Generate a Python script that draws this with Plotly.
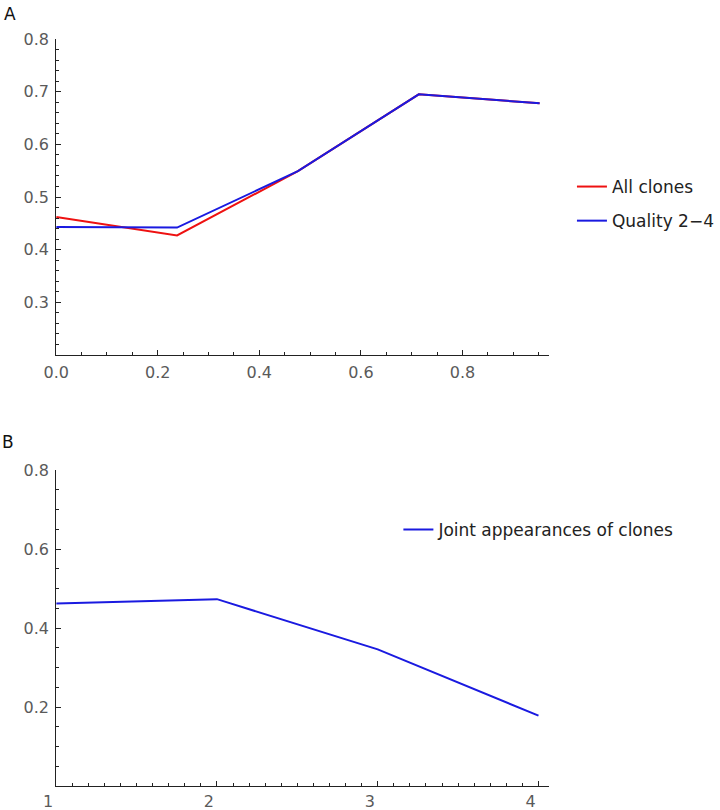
import plotly.graph_objects as go

# Panel A data
a_x = [0.0, 0.238, 0.476, 0.714, 0.952]
a_all = [0.462, 0.427, 0.549, 0.695, 0.678]
a_q24 = [0.443, 0.442, 0.549, 0.695, 0.678]
a_xticks = [0.0, 0.2, 0.4, 0.6, 0.8]
a_yticks = [0.3, 0.4, 0.5, 0.6, 0.7, 0.8]

# Panel B data
b_x = [1, 2, 3, 4]
b_joint = [0.462, 0.473, 0.346, 0.178]
b_xticks = [1, 2, 3, 4]
b_yticks = [0.2, 0.4, 0.6, 0.8]

W, H = 720, 810
def px_x(p):
    return p / W
def px_y(p):
    return 1 - p / H

FONT = "DejaVu Sans, Verdana, sans-serif"

fig = go.Figure()
fig.add_trace(go.Scatter(x=a_x, y=a_all, mode="lines", name="All clones",
                         line=dict(color="#ee1111", width=2), xaxis="x", yaxis="y",
                         legend="legend", legendgroup="a1"))
fig.add_trace(go.Scatter(x=a_x, y=a_q24, mode="lines", name="Quality 2\u22124",
                         line=dict(color="#1a1ae0", width=2), xaxis="x", yaxis="y",
                         legend="legend", legendgroup="a2"))
fig.add_trace(go.Scatter(x=b_x, y=b_joint, mode="lines", name="Joint appearances of clones",
                         line=dict(color="#1a1ae0", width=2), xaxis="x2", yaxis="y2",
                         legend="legend2"))

tickfont = dict(family=FONT, size=16, color="#5a5a5a")
axis_common = dict(showline=True, linecolor="#222", linewidth=1.2, ticks="inside",
                   tickcolor="#222", ticklen=5, tickwidth=1, showgrid=False,
                   zeroline=False, tickfont=tickfont, mirror=False, automargin=False)

fig.update_layout(
    width=W, height=H, margin=dict(l=0, r=0, t=0, b=0),
    paper_bgcolor="white", plot_bgcolor="white",
    xaxis=dict(domain=[px_x(57), px_x(557)], range=[0, 0.971], anchor="y",
               tickvals=a_xticks, ticktext=[f"{v:.1f}" for v in a_xticks],
               ticklabelstandoff=3,
               minor=dict(dtick=0.05, tick0=0, ticks="inside", ticklen=3, tickcolor="#222"),
               **axis_common),
    yaxis=dict(domain=[px_y(355), px_y(39)], range=[0.2, 0.8], anchor="x",
               tickvals=a_yticks, ticktext=[f"{v:.1f}" for v in a_yticks],
               ticklabelstandoff=3,
               minor=dict(dtick=0.02, tick0=0.2, ticks="inside", ticklen=3, tickcolor="#222"),
               **axis_common),
    xaxis2=dict(domain=[px_x(57), px_x(557)], range=[1, 4.067], anchor="y2",
                tickvals=b_xticks, ticktext=[str(v) for v in b_xticks],
                ticklabelshift=-8, ticklabelstandoff=1,
                minor=dict(dtick=0.1, tick0=1, ticks="inside", ticklen=3, tickcolor="#222"),
                **axis_common),
    yaxis2=dict(domain=[px_y(786), px_y(470)], range=[0, 0.8], anchor="x2",
                tickvals=b_yticks, ticktext=[f"{v:.1f}" for v in b_yticks],
                ticklabelstandoff=3,
                minor=dict(dtick=0.05, tick0=0, ticks="inside", ticklen=3, tickcolor="#222"),
                **axis_common),
    legend=dict(x=px_x(580), y=px_y(204), xanchor="left", yanchor="middle",
                font=dict(family=FONT, size=17, color="#222"),
                bgcolor="rgba(0,0,0,0)", traceorder="grouped", tracegroupgap=9),
    legend2=dict(x=px_x(404), y=px_y(530), xanchor="left", yanchor="middle",
                 font=dict(family=FONT, size=17, color="#222"),
                 bgcolor="rgba(0,0,0,0)"),
    showlegend=True,
    annotations=[
        dict(text="A", x=px_x(2), y=px_y(2), xref="paper", yref="paper",
             xanchor="left", yanchor="top", showarrow=False,
             font=dict(family=FONT, size=17, color="#111")),
        dict(text="B", x=px_x(0), y=px_y(430), xref="paper", yref="paper",
             xanchor="left", yanchor="top", showarrow=False,
             font=dict(family=FONT, size=17, color="#111")),
    ],
)

fig.write_html("out.html", config={"displayModeBar": False},
               post_script="document.body.style.margin='0';document.body.style.overflow='hidden';")
